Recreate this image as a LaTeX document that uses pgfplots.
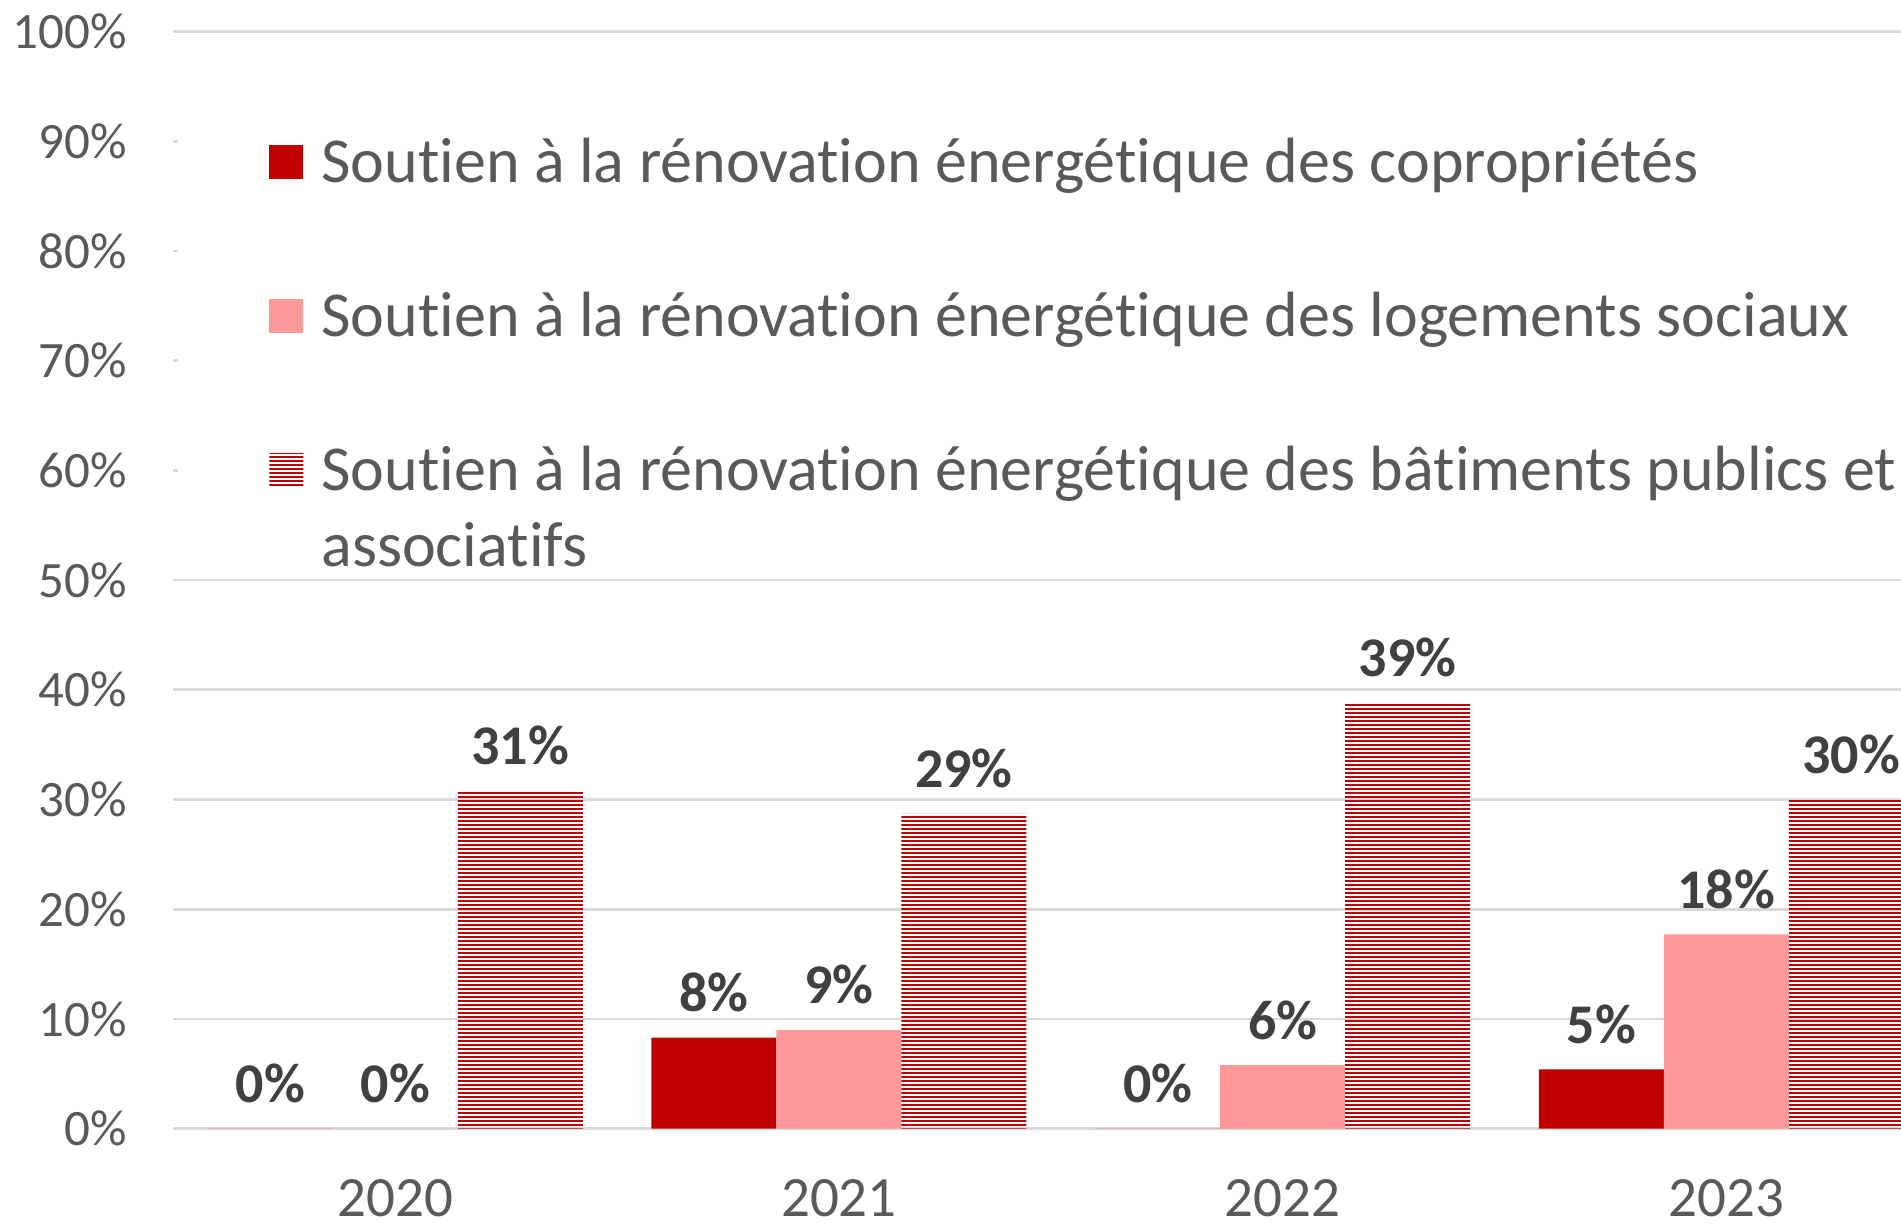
\documentclass[border=0pt]{standalone}
\usepackage{pgfplots}
\pgfplotsset{compat=1.18}
\usepackage{fontspec}
\setmainfont{Carlito}[Ligatures=NoCommon]
\usetikzlibrary{patterns.meta}
\definecolor{darkred}{HTML}{C00000}
\definecolor{pinkc}{HTML}{FF9999}
\definecolor{gridc}{HTML}{D9D9D9}
\definecolor{tickc}{HTML}{595959}
\definecolor{labc}{HTML}{404040}
\begin{document}
\begin{tikzpicture}
\begin{axis}[
 at={(0,0)}, anchor=south west,
 scale only axis, width=887.4pt, height=548.6pt,
 xmin=-0.5, xmax=3.5, ymin=0, ymax=100,
 ybar=0pt, bar width=62.5pt,
 axis line style={draw=none},
 major tick length=0pt,
 xtick={0,1,2,3}, xticklabels={2020,2021,2022,2023},
 ytick={0,10,...,100},
 yticklabel={\pgfmathprintnumber{\tick}\%},
 ymajorgrids, grid style={gridc, line width=1.35pt},
 tick label style={text=tickc},
 xticklabel style={font=\fontsize{28.5}{34}\selectfont, anchor=base, inner sep=0pt, yshift=-44pt},
 yticklabel style={font=\fontsize{25.5}{30}\selectfont, anchor=east, inner sep=0pt, xshift=-23pt},
 /pgf/number format/assume math mode=true,
 nodes near coords={\pgfmathprintnumber[fixed,precision=0]{\pgfplotspointmeta}\%},
 nodes near coords style={font=\fontsize{28}{33}\selectfont\bfseries, text=labc, anchor=base, inner sep=0pt, yshift=13pt},
 legend image code/.code={\fill[#1] (0pt,-10.2pt) rectangle (17pt,6.8pt);},
 legend cell align=left,
 legend style={at={(rel axis cs:0.0026,0.945)}, anchor=north west, draw=none, fill=white,
   font=\fontsize{32}{38}\selectfont, text=tickc,
   inner xsep=45.5pt, inner ysep=20pt,
   nodes={inner sep=0pt, text height=25pt},
   column sep=9pt, row sep=50.5pt},
]
\addplot[fill=darkred, draw=none] coordinates {(0,0) (1,8.3) (2,0) (3,5.4)};
\addplot[fill=pinkc, draw=none] coordinates {(0,0) (1,9.0) (2,5.8) (3,17.7)};
\addplot[pattern={Lines[angle=0,distance=2pt,line width=1.2pt]}, pattern color=darkred, draw=none] coordinates {(0,30.8) (1,28.7) (2,38.8) (3,30.0)};
\legend{Soutien à la rénovation énergétique des copropriétés,
Soutien à la rénovation énergétique des logements sociaux,
{\begin{tabular}[t]{@{}l@{}}Soutien à la rénovation énergétique des bâtiments publics et\\associatifs\end{tabular}}}
\end{axis}
\pgfresetboundingbox
\useasboundingbox (-86.7pt,-48.15pt) rectangle (863.8pt,564.35pt);
\end{tikzpicture}
\end{document}
